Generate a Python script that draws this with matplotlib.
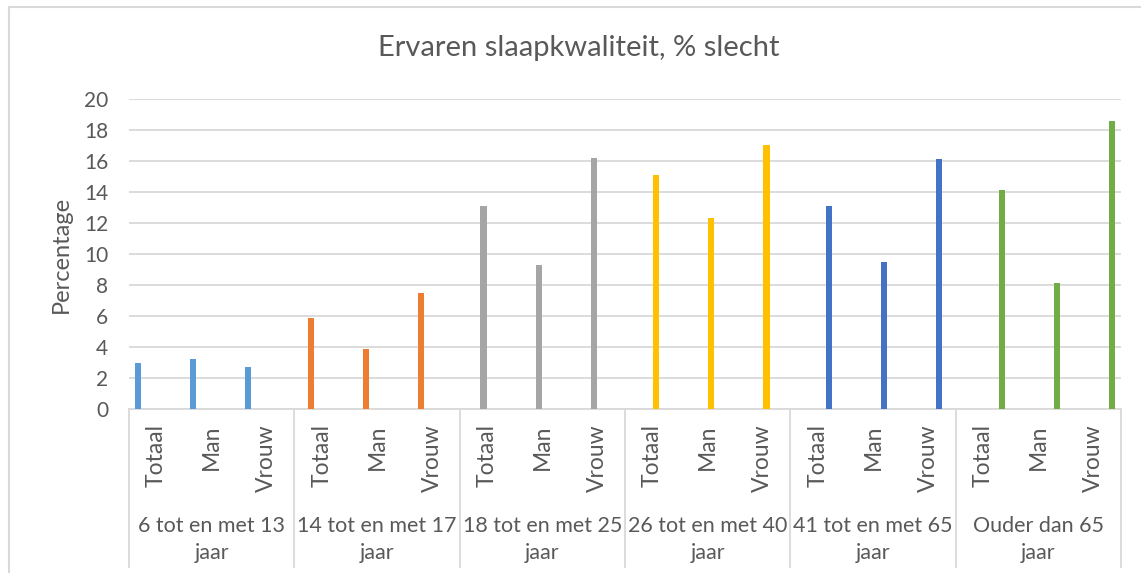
import matplotlib.pyplot as plt
from matplotlib.lines import Line2D

# data
groups = ['6 tot en met 13\njaar', '14 tot en met 17\njaar', '18 tot en met 25\njaar',
          '26 tot en met 40\njaar', '41 tot en met 65\njaar', 'Ouder dan 65\njaar']
sexes = ['Totaal', 'Man', 'Vrouw']
totaal = [3.0, 5.9, 13.1, 15.1, 13.1, 14.1]
man = [3.25, 3.9, 9.3, 12.3, 9.5, 8.1]
vrouw = [2.7, 7.5, 16.2, 17.0, 16.1, 18.6]
colors = ['#5B9BD5', '#ED7D31', '#A5A5A5', '#FFC000', '#4472C4', '#70AD47']

txt = '#595959'
grid = '#D9D9D9'
plt.rcParams['font.family'] = ['Lato', 'DejaVu Sans']

W, H = 1141, 573
fig = plt.figure(figsize=(W / 100, H / 100), dpi=100)
ax = fig.add_axes([129 / W, (H - 409) / H, (1121 - 129) / W, (409 - 99) / H])

# each age group is its own series in a 6-series cluster
slot = 0.135
labels = []
for g in range(len(groups)):
    vals = [totaal[g], man[g], vrouw[g]]
    xs = [g * 3 + k + (g - 2.5) * slot for k in range(3)]
    ax.bar(xs, vals, width=0.11, color=colors[g], zorder=3)
    labels += sexes

ax.set_xlim(-0.5, len(groups) * 3 - 0.5)
ax.set_ylim(0, 20)
ax.set_yticks(range(0, 21, 2))
ax.yaxis.grid(True, color=grid, linewidth=1.3)
ax.set_axisbelow(True)
for s in ['top', 'right', 'left']:
    ax.spines[s].set_visible(False)
ax.spines['bottom'].set_color(grid)
ax.spines['bottom'].set_linewidth(1.3)

ax.set_xticks(range(len(labels)))
ax.set_xticklabels(labels, rotation=90, fontsize=16.5, color=txt)
ax.tick_params(axis='x', length=0, pad=11)
ax.tick_params(axis='y', length=0, pad=15, labelsize=15, labelcolor=txt)

ax.set_ylabel('Percentage', fontsize=17, color=txt, labelpad=9)
fig.text(579 / W, 1 - 48 / H, 'Ervaren slaapkwaliteit, % slecht',
         ha='center', va='center', fontsize=21, color=txt)

xt = ax.get_xaxis_transform()
for g, name in enumerate(groups):
    ax.text(g * 3 + 1, -0.42, name, transform=xt, ha='center', va='center',
            fontsize=15.5, color=txt, linespacing=1.42)
for b in range(len(groups) + 1):
    ax.plot([b * 3 - 0.5] * 2, [0, -0.51], transform=xt, color=grid,
            linewidth=1.3, clip_on=False)

# chart border (only top and left visible in the crop)
fig.add_artist(Line2D([9 / W, 1], [1 - 7 / H] * 2, transform=fig.transFigure,
                      color=grid, linewidth=1.5))
fig.add_artist(Line2D([9 / W] * 2, [0, 1 - 7 / H], transform=fig.transFigure,
                      color=grid, linewidth=1.5))

fig.savefig('out.png', dpi=100)
